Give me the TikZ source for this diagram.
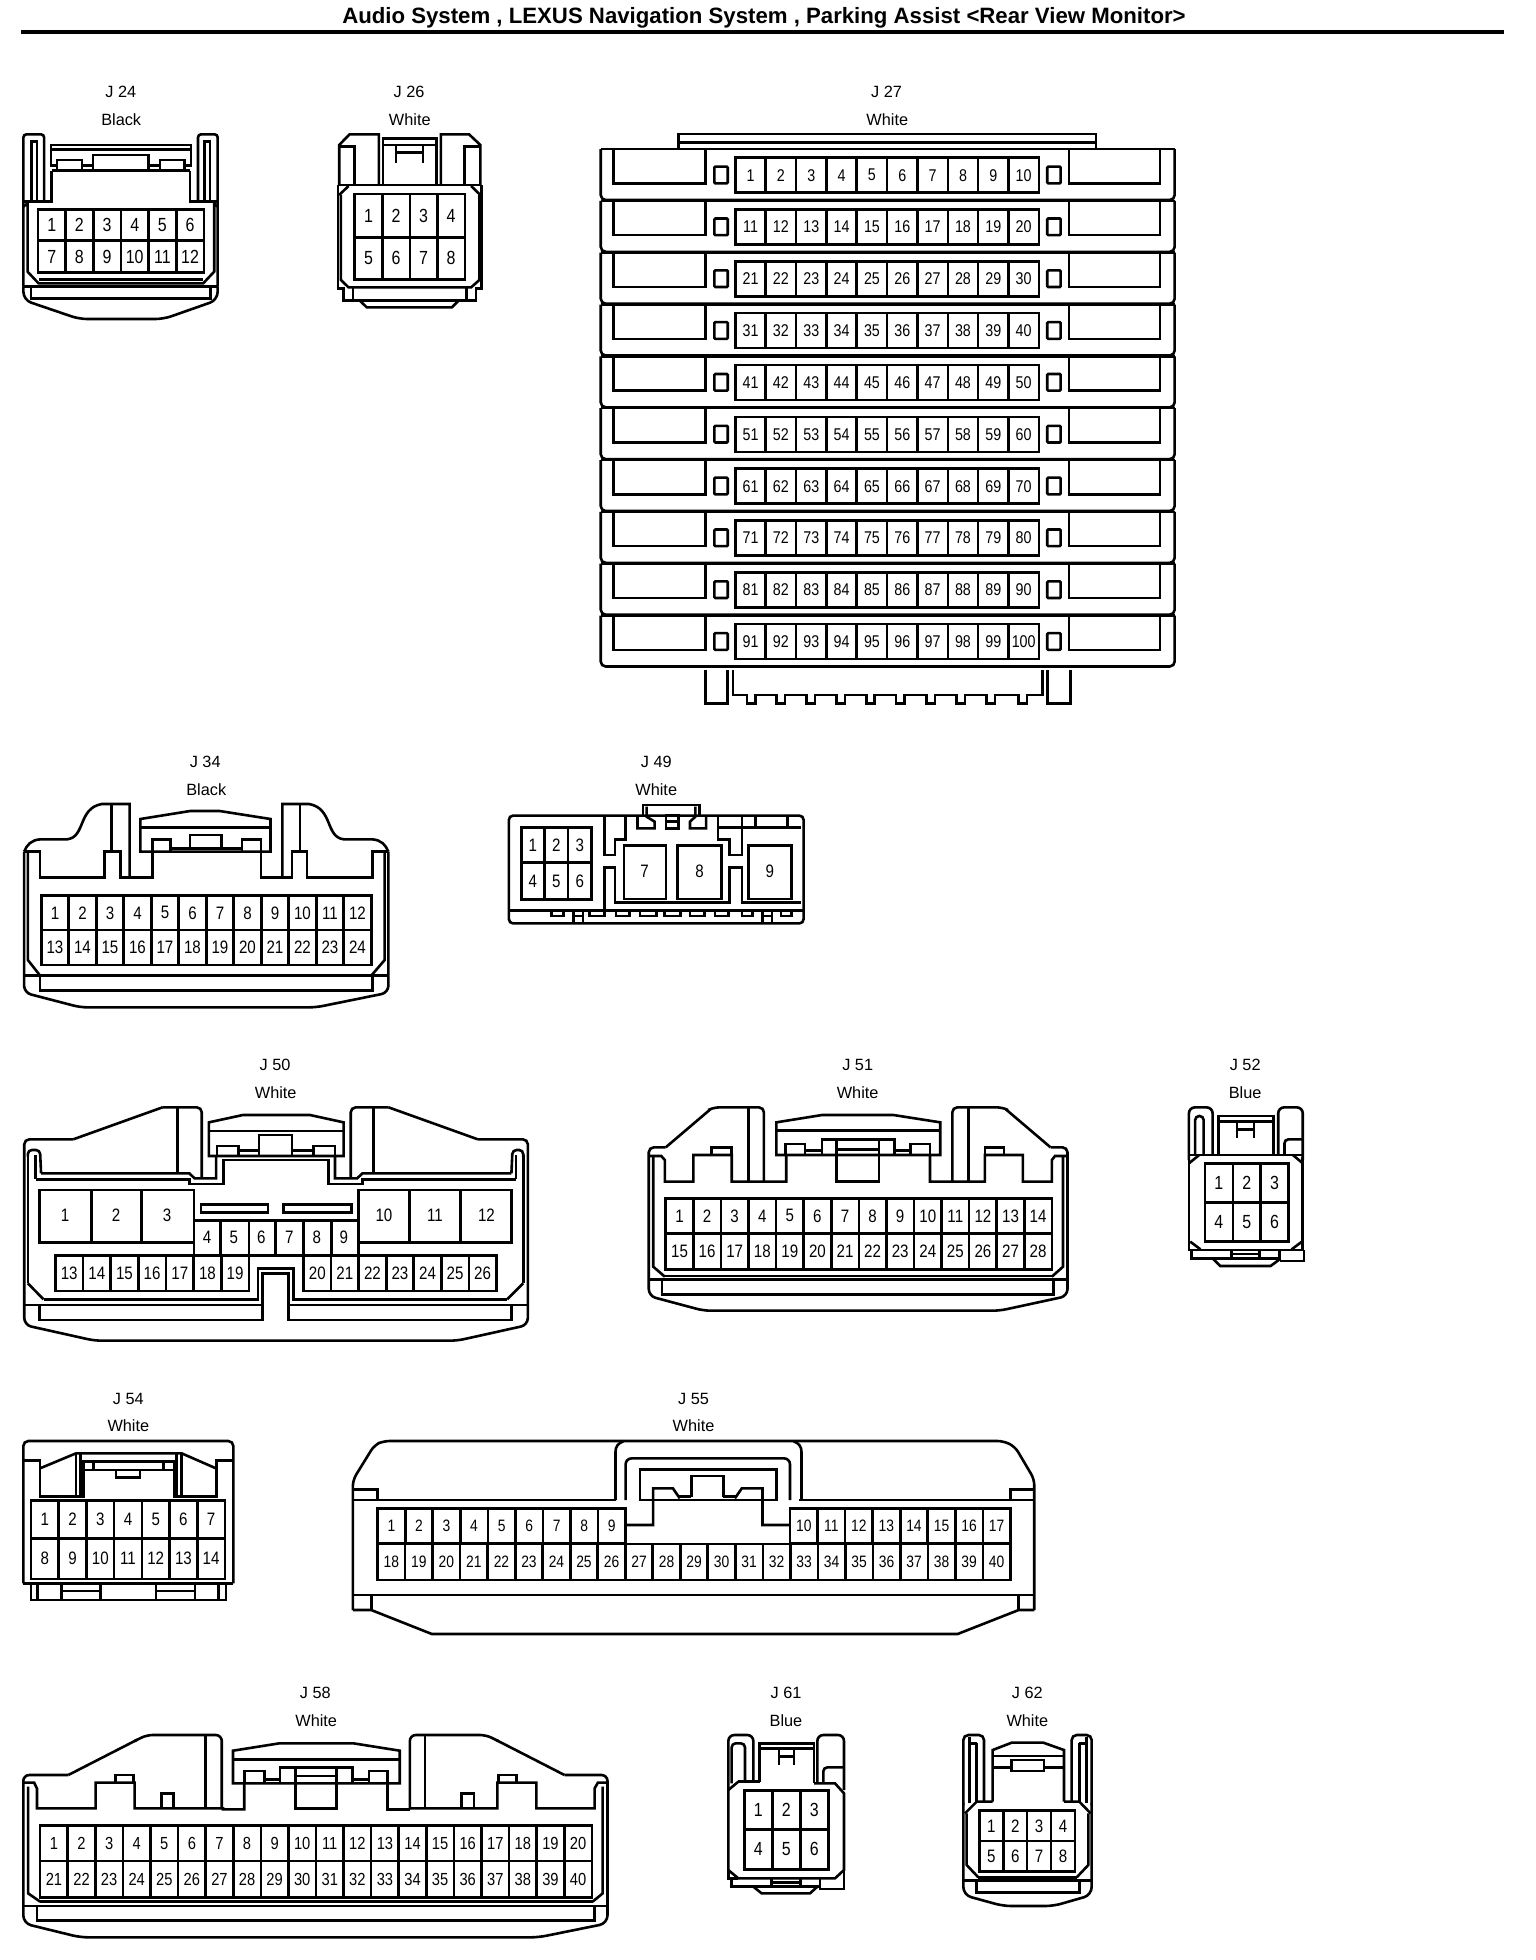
\documentclass[tikz,border=0pt]{standalone}
\usepackage{fontspec}
\setmainfont{Liberation Sans}
\newfontfamily\pinfont[FakeStretch=0.84]{Liberation Sans}
\def\pinpt{18}
\tikzset{
  zoomz/.style n args={3}{shift={(#1,#2)},xscale=#3,yscale=1/3},
  pinlab/.style={inner sep=0pt,font=\fontsize{\pinpt}{\pinpt}\selectfont\pinfont},
  lab/.style={inner sep=0pt,font=\fontsize{16.3}{17}\selectfont},
  ttl/.style={inner sep=0pt,font=\fontsize{22.2}{24}\selectfont\bfseries}
}
\newcommand{\pgrow}[7]{%
  \draw (#2,#3) rectangle (#4,#5);
  \foreach \i in {1,...,#6}{%
    \pgfmathsetmacro\pcw{(#4-#2)/#6}%
    \pgfmathsetmacro\pcx{#2+(\i-.5)*\pcw}%
    \pgfmathsetmacro\pex{#2+\i*\pcw}%
    \pgfmathtruncatemacro\pnum{#7+\i-1}%
    \node[pinlab] (#1-\pnum) at (\pcx,{(#3+#5)/2}) {\pnum};
    \ifnum\i<#6 \draw (\pex,#3) -- (\pex,#5);\fi
  }%
}
\begin{document}
\begin{tikzpicture}[x=1pt,y=-1pt,line width=2.6pt,line join=miter]
\useasboundingbox (0,0) rectangle (1536,1960);
\fill[white] (0,0) rectangle (1536,1960);
\node[ttl] (title) at (764,17.5) {Audio System , LEXUS Navigation System , Parking Assist <Rear View Monitor>};
\draw[line width=3.6pt] (21,32) -- (1504,32);

% ---------- J24 / J26
\begin{scope}[zoomz={0}{0}{540/1568}]
\def\pinpt{19}
\node[lab] (J24t) at (351,277) {J 24};
\node[lab] (J24c) at (352,358) {Black};
\draw[rounded corners=3pt] (68,860) -- (68,403) -- (128,403) -- (128,605);
\draw (92,605) -- (92,425) -- (108,425) -- (108,605);
\draw[rounded corners=3pt] (632,860) -- (632,403) -- (575,403) -- (575,605);
\draw (610,605) -- (610,425) -- (594,425) -- (594,605);
\draw (148,500) -- (148,435) -- (555,435) -- (555,500);
\draw (148,448) -- (555,448);
\draw (148,497) -- (165,497) (238,497) -- (270,497) (432,497) -- (465,497) (535,497) -- (555,497);
\draw (165,512) -- (165,480) -- (238,480) -- (238,512);
\draw (465,512) -- (465,480) -- (535,480) -- (535,512);
\draw (270,512) -- (270,465) -- (432,465) -- (432,512);
\draw (150,512) -- (552,512);
\draw (68,605) -- (150,605) -- (150,512);
\draw (632,605) -- (552,605) -- (552,512);
\draw (68,620) -- (80,610) -- (80,815) -- (112,850) -- (590,850) -- (622,815) -- (622,610) -- (632,620);
\draw (112,838) -- (590,838);
\draw (68,860) -- (632,860);
\draw (90,860) -- (90,895) -- (612,895) -- (612,860);
\draw[rounded corners=8pt] (68,860) -- (68,900) -- (230,957) -- (475,957) -- (632,900) -- (632,860);
\pgrow{J24}{110}{628}{592}{722}{6}{1}
\pgrow{J24}{110}{722}{592}{818}{6}{7}

\node[lab] (J26t) at (1188,277) {J 26};
\node[lab] (J26c) at (1190,358) {White};
\draw (985,555) -- (985,435) -- (1015,403) -- (1100,403) -- (1100,555);
\draw (1280,555) -- (1280,403) -- (1362,403) -- (1395,435) -- (1395,555);
\draw (985,440) -- (1030,440) -- (1030,555);
\draw (1395,440) -- (1348,440) -- (1348,555);
\draw (1112,555) -- (1112,415) -- (1268,415) -- (1268,555);
\draw (1112,435) -- (1268,435);
\draw (1150,435) -- (1150,488) (1228,435) -- (1228,488) (1150,458) -- (1228,458);
\draw (982,555) -- (1398,555);
\draw (982,555) -- (982,865) -- (998,865) (1398,555) -- (1398,865) -- (1382,865);
\draw (985,585) -- (1012,558) (1395,585) -- (1368,558);
\draw (990,585) -- (990,840) -- (1012,862) -- (1368,862) -- (1392,840) -- (1392,585);
\draw (998,862) -- (998,902) -- (1382,902) -- (1382,862);
\draw (1025,862) -- (1025,897) (1355,862) -- (1355,897);
\draw (1045,902) -- (1065,922) -- (1312,922) -- (1332,902);
\pgrow{J26}{1030}{582}{1350}{712}{4}{1}
\pgrow{J26}{1030}{712}{1350}{838}{4}{5}
\end{scope}

% ---------- J27
\begin{scope}[zoomz={590}{80}{600/1568}]
\def\pinpt{17}
\node[lab] (J27t) at (775,37) {J 27};
\node[lab] (J27c) at (777,118) {White};
\draw (232,205) -- (232,162) -- (1322,162) -- (1322,205);
\draw (232,188) -- (1322,188);
\foreach \r in {0,...,9}{%
  \pgfmathtruncatemacro\st{10*\r+1}%
  \begin{scope}[shift={(0,{155.5*\r})}]
    \draw (28,207) -- (1528,207);
    \draw[rounded corners=5pt] (28,207) -- (28,360) -- (1528,360) -- (1528,207);
    \draw (62,207) -- (62,310) -- (302,310) -- (302,207);
    \draw (1252,207) -- (1252,310) -- (1490,310) -- (1490,207);
    \draw[rounded corners=1pt] (325,260) rectangle (360,310);
    \draw[rounded corners=1pt] (1195,260) rectangle (1230,310);
    \pgrow{J27}{380}{233}{1173}{338}{10}{\st}
  \end{scope}
}
\end{scope}
\begin{scope}[zoomz={590}{590}{600/1568}]
\draw (302,240) -- (302,340) -- (360,340) -- (360,240);
\draw (1195,240) -- (1195,340) -- (1255,340) -- (1255,240);
\draw (374,240) -- (374,315) -- (410,315) -- (410,340) -- (432,340) -- (432,315)
  -- (488,315) -- (488,340) -- (510,340) -- (510,315)
  -- (566,315) -- (566,340) -- (588,340) -- (588,315)
  -- (644,315) -- (644,340) -- (666,340) -- (666,315)
  -- (722,315) -- (722,340) -- (744,340) -- (744,315)
  -- (800,315) -- (800,340) -- (822,340) -- (822,315)
  -- (880,315) -- (880,340) -- (902,340) -- (902,315)
  -- (958,315) -- (958,340) -- (980,340) -- (980,315)
  -- (1036,315) -- (1036,340) -- (1058,340) -- (1058,315)
  -- (1120,315) -- (1120,340) -- (1142,340) -- (1142,315)
  -- (1182,315) -- (1182,240);
\end{scope}

% ---------- J34 / J49
\begin{scope}[zoomz={0}{750}{840/1568}]
\def\pinpt{18}
\node[lab] (J34t) at (383,37) {J 34};
\node[lab] (J34c) at (385,118) {Black};
\draw (45,305) .. controls (50,285) and (58,270) .. (75,268) -- (125,268) .. controls (160,262) and (145,175) .. (190,162) -- (242,162) -- (242,382);
\draw (725,305) .. controls (720,285) and (712,270) .. (695,268) -- (642,268) .. controls (607,262) and (622,175) .. (577,162) -- (527,162) -- (527,382);
\draw (208,162) -- (208,305) (560,162) -- (560,305);
\draw (45,305) -- (75,305) -- (75,382) -- (195,382) -- (195,305) -- (225,305) -- (225,382) -- (285,382) -- (285,305);
\draw (725,305) -- (695,305) -- (695,382) -- (573,382) -- (573,305) -- (545,305) -- (545,382) -- (487,382) -- (487,305);
\draw (262,305) -- (262,207) -- (355,183) -- (410,183) -- (505,207) -- (505,305) -- cycle;
\draw (262,232) -- (505,232);
\draw (285,305) -- (285,268) -- (318,268) -- (318,305);
\draw (452,305) -- (452,268) -- (487,268) -- (487,305);
\draw (355,295) -- (355,255) -- (413,255) -- (413,295);
\draw (318,295) -- (355,295) (413,295) -- (452,295) (355,295) -- (413,295);
\draw (52,305) -- (52,630) -- (75,677) (718,305) -- (718,630) -- (693,677);
\draw (45,677) -- (725,677);
\draw (75,677) -- (75,722) -- (695,722) -- (695,677);
\draw[rounded corners=7pt] (45,305) -- (45,728) -- (150,772) -- (590,772) -- (725,728) -- (725,305);
\pgrow{J34}{77}{437}{693}{540}{12}{1}
\pgrow{J34}{77}{540}{693}{645}{12}{13}

\node[lab] (J49t) at (1225,37) {J 49};
\node[lab] (J49c) at (1225,118) {White};
\draw[rounded corners=4pt] (950,197) rectangle (1500,520);
\draw (950,482) -- (1500,482);
\pgrow{J49}{973}{232}{1104}{337}{3}{1}
\pgrow{J49}{973}{337}{1104}{449}{3}{4}
\draw (1165,287) rectangle (1243,447);
\node[pinlab] (J49-7) at (1203,365) {7};
\draw (1265,287) rectangle (1347,447);
\node[pinlab] (J49-8) at (1306,365) {8};
\draw (1397,287) rectangle (1478,447);
\node[pinlab] (J49-9) at (1437,365) {9};
\draw (1200,197) -- (1200,165) -- (1306,165) -- (1306,197);
\draw (1207,170) -- (1207,200) -- (1222,215) -- (1222,235) -- (1190,235) -- (1190,197);
\draw (1298,170) -- (1298,200) -- (1288,215) -- (1288,235) -- (1318,235) -- (1318,197);
\draw (1243,197) rectangle (1267,235);
\draw (1243,215) -- (1267,215);
\draw (1128,197) -- (1128,315) -- (1148,315) -- (1148,268) -- (1168,268) -- (1168,197);
\draw (1128,482) -- (1128,352) -- (1148,352) -- (1148,458) -- (1362,458) -- (1362,352) -- (1385,352) -- (1385,458) -- (1495,458);
\draw (1495,232) -- (1340,232) -- (1340,268) -- (1362,268) -- (1362,315) -- (1385,315) -- (1385,232);
\draw (1340,200) -- (1340,232) (1385,200) -- (1385,232) (1410,200) -- (1410,232) (1470,200) -- (1470,232);
\foreach \a/\b in {1030/1052,1100/1128,1150/1175,1195/1225,1240/1270,1288/1315,1335/1360,1385/1405,1458/1478}{%
  \draw (\a,482) -- (\a,498) -- (\b,498) -- (\b,482);
}
\foreach \a/\b in {1070/1088,1423/1441}{%
  \draw (\a,482) -- (\a,520) (\b,482) -- (\b,520) (\a,498) -- (\b,498);
}
\end{scope}

% ---------- J50
\begin{scope}[zoomz={0}{1060}{560/1568}]
\def\pinpt{18}
\node[lab] (J50t) at (770,15) {J 50};
\node[lab] (J50c) at (772,98) {White};
\draw[rounded corners=5pt] (68,735) -- (68,238) -- (205,238);
\draw (205,238) -- (455,142);
\draw[rounded corners=5pt] (455,142) -- (565,142) -- (565,355);
\draw[rounded corners=5pt] (1478,735) -- (1478,238) -- (1338,238);
\draw (1338,238) -- (1088,142);
\draw[rounded corners=5pt] (1088,142) -- (982,142) -- (982,355);
\draw (497,142) -- (497,340) (1046,142) -- (1046,340);
\draw (78,670) -- (78,285) (100,285) -- (100,358);
\draw[rounded corners=4pt] (78,290) -- (78,270) -- (112,270) -- (115,340);
\draw (115,340) -- (530,340) -- (545,355) -- (605,355) -- (605,288);
\draw (100,358) -- (530,358) -- (530,372) -- (625,372) -- (625,300) -- (920,300) -- (920,372) -- (1015,372) -- (1015,358) -- (1445,358);
\draw (938,288) -- (938,355) -- (1000,355) -- (1015,340) -- (1432,340);
\draw[rounded corners=4pt] (1465,290) -- (1465,270) -- (1435,270) -- (1432,340);
\draw (1445,285) -- (1445,358) (1465,285) -- (1465,670);
\draw (78,670) -- (122,718) (1465,670) -- (1420,718);
\draw (585,288) -- (585,187) -- (680,165) -- (868,165) -- (962,187) -- (962,288) -- cycle;
\draw (585,213) -- (962,213);
\draw (608,285) -- (608,258) -- (668,258) -- (668,285);
\draw (878,285) -- (878,258) -- (938,258) -- (938,285);
\draw (725,285) -- (725,225) -- (818,225) -- (818,285);
\draw (668,272) -- (725,272) (818,272) -- (878,272);
\pgrow{J50}{155}{587}{697}{693}{7}{13}
\pgrow{J50}{850}{587}{1390}{693}{7}{20}
\draw (110,390) rectangle (543,548) (256,390) -- (256,548) (396,390) -- (396,548);
\draw (1003,390) rectangle (1433,548) (1147,390) -- (1147,548) (1290,390) -- (1290,548);
\foreach \n/\xx in {1/182,2/325,3/468,10/1075,11/1218,12/1362}{%
  \node[pinlab] (J50-\n) at (\xx,465) {\n};
}
\draw (543,482) -- (1003,482) (543,548) -- (543,587) (1003,548) -- (1003,587) (697,587) -- (850,587);
\foreach \xx in {617,697,772,850,928}{\draw (\xx,482) -- (\xx,587);}
\foreach \n/\xx in {4/580,5/655,6/732,7/810,8/887,9/963}{%
  \node[pinlab] (J50-\n) at (\xx,532) {\n};
}
\draw (563,433) rectangle (750,458) (793,433) rectangle (985,458);
\draw (122,718) -- (722,718) -- (722,625) -- (822,625) -- (822,718) -- (1420,718);
\draw (68,735) -- (735,735) (808,735) -- (1478,735);
\draw (110,735) -- (110,780) -- (735,780) -- (735,640) -- (808,640) -- (808,780) -- (1433,780) -- (1433,735);
\draw[rounded corners=7pt] (68,735) -- (68,795) -- (265,842) -- (1280,842) -- (1478,795) -- (1478,735);
\end{scope}

% ---------- J51 / J52
\begin{scope}[zoomz={630}{1060}{700/1568}]
\def\pinpt{18}
\node[lab] (J51t) at (510,15) {J 51};
\node[lab] (J51c) at (510,98) {White};
\draw[rounded corners=5pt] (42,285) -- (42,262) -- (80,262);
\draw (80,262) -- (180,148);
\draw[rounded corners=5pt] (175,150) -- (190,142) -- (300,142) -- (300,365);
\draw (265,142) -- (265,365);
\draw (42,288) -- (70,288) -- (78,300) -- (78,365) -- (142,365) -- (142,285) -- (228,285) -- (228,365) -- (350,365) -- (350,285);
\draw (182,285) -- (182,262) -- (228,262) -- (228,285);
\draw (328,285) -- (328,187) -- (430,165) -- (590,165) -- (695,187) -- (695,285) -- cycle;
\draw (328,212) -- (695,212);
\draw (348,285) -- (348,252) -- (392,252) -- (392,285);
\draw (628,285) -- (628,252) -- (672,252) -- (672,285);
\draw (430,285) -- (430,238) -- (592,238) -- (592,285);
\draw (462,238) -- (462,365) -- (558,365) -- (558,238);
\draw (462,268) -- (558,268);
\draw (392,272) -- (430,272) (592,272) -- (628,272);
\draw (672,285) -- (672,365) -- (795,365) -- (795,285) -- (880,285) -- (880,365) -- (945,365) -- (945,300) -- (952,288) -- (980,288);
\draw (795,285) -- (795,262) -- (838,262) -- (838,285);
\draw[rounded corners=5pt] (722,365) -- (722,142) -- (832,142) -- (847,150);
\draw (842,148) -- (942,262);
\draw[rounded corners=5pt] (942,262) -- (980,262) -- (980,285);
\draw (758,142) -- (758,365);
\draw[rounded corners=7pt] (42,285) -- (42,708) -- (165,752) -- (828,752) -- (980,708) -- (980,285);
\draw (52,290) -- (52,620) -- (78,650) (970,290) -- (970,620) -- (945,650);
\draw (78,648) -- (945,648);
\draw (42,658) -- (980,658);
\draw (72,658) -- (72,703) -- (948,703) -- (948,658);
\pgrow{J51}{80}{415}{945}{520}{14}{1}
\pgrow{J51}{80}{520}{945}{628}{14}{15}

\def\pinpt{19}
\node[lab] (J52t) at (1378,15) {J 52};
\node[lab] (J52c) at (1378,98) {Blue};
\draw[rounded corners=6pt] (1252,300) -- (1252,142) -- (1305,142) -- (1305,285);
\draw[rounded corners=4pt] (1266,285) -- (1266,168) -- (1285,168) -- (1285,285);
\draw[rounded corners=6pt] (1452,285) -- (1452,142) -- (1507,142) -- (1507,300);
\draw[rounded corners=4pt] (1466,285) -- (1466,238) -- (1505,238);
\draw (1318,285) -- (1318,168) -- (1442,168) -- (1442,285);
\draw (1318,185) -- (1442,185);
\draw (1360,185) -- (1360,235) (1398,185) -- (1398,235) (1360,208) -- (1398,208);
\draw (1252,285) -- (1507,285);
\draw (1252,310) -- (1275,285) (1507,310) -- (1485,285);
\draw (1252,290) -- (1252,570) -- (1507,570) -- (1507,290);
\draw (1255,545) -- (1278,568) (1505,545) -- (1482,568);
\pgrow{J52}{1288}{310}{1475}{428}{3}{1}
\pgrow{J52}{1288}{428}{1475}{545}{3}{4}
\draw (1258,570) -- (1258,595) -- (1455,595) -- (1455,570);
\draw (1348,570) -- (1348,595) (1410,570) -- (1410,595) (1348,582) -- (1410,582);
\draw (1455,603) -- (1510,603) -- (1510,570);
\draw (1305,595) -- (1322,618) -- (1435,618) -- (1455,598);
\end{scope}

% ---------- J54
\begin{scope}[zoomz={0}{1390}{1/3}]
\def\pinpt{18}
\node[lab] (J54t) at (385,28) {J 54};
\node[lab] (J54c) at (385,108) {White};
\draw[rounded corners=5pt] (70,580) -- (70,153) -- (700,153) -- (700,580);
\draw (70,580) -- (700,580);
\draw (70,212) -- (120,212) -- (120,320) -- (245,320);
\draw (700,212) -- (650,212) -- (650,320) -- (525,320);
\draw (120,235) -- (228,190) -- (545,190) -- (648,235);
\draw (228,190) -- (228,320) (242,190) -- (242,320) (530,190) -- (530,320) (545,190) -- (545,320);
\draw (250,325) -- (250,215) -- (522,215) -- (522,325);
\draw (250,240) -- (522,240);
\draw (280,215) -- (280,240) (490,215) -- (490,240);
\draw (348,240) -- (348,262) -- (420,262) -- (420,240);
\pgrow{J54}{93}{332}{675}{445}{7}{1}
\pgrow{J54}{93}{445}{675}{567}{7}{8}
\draw (93,580) -- (93,630) -- (678,630) -- (678,580);
\foreach \xx in {112,185,302,468,585,655}{\draw (\xx,580) -- (\xx,630);}
\draw (185,603) -- (302,603) (468,603) -- (585,603);
\end{scope}

% ---------- J55
\begin{scope}[zoomz={340}{1390}{720/1568}]
\def\pinpt{16.5}
\node[lab] (J55t) at (770,28) {J 55};
\node[lab] (J55c) at (770,108) {White};
\draw[rounded corners=6pt] (28,660) -- (28,270) -- (75,165) -- (95,153) -- (1445,153) -- (1470,170) -- (1512,268) -- (1512,660);
\draw (28,660) -- (68,660) -- (200,732) -- (1345,732) -- (1478,660) -- (1512,660);
\draw (28,330) -- (600,330) (1000,330) -- (1512,330);
\draw (28,298) -- (82,298) -- (82,330) (1512,298) -- (1460,298) -- (1460,330);
\draw (600,330) -- (600,185) .. controls (600,170) and (605,160) .. (618,153);
\draw (1005,330) -- (1005,185) .. controls (1005,170) and (1000,160) .. (987,153);
\draw[rounded corners=6pt] (622,330) -- (622,205) -- (980,205) -- (980,330);
\draw (653,238) rectangle (950,330);
\draw (625,405) -- (682,405) -- (682,295) -- (725,295) -- (740,325);
\draw (980,405) -- (920,405) -- (920,295) -- (875,295) -- (860,325);
\draw (765,322) -- (765,258) -- (835,258) -- (835,322);
\draw (735,320) -- (765,320) (835,320) -- (865,320);
\draw (28,615) -- (1512,615);
\draw (68,615) -- (68,660) (1478,615) -- (1478,660);
\pgrow{J55}{82}{355}{622}{460}{9}{1}
\pgrow{J55}{980}{355}{1460}{460}{8}{10}
\pgrow{J55}{82}{462}{1460}{570}{23}{18}
\end{scope}

% ---------- J58
\begin{scope}[zoomz={0}{1690}{630/1568}]
\def\pinpt{17.5}
\node[lab] (J58t) at (785,10) {J 58};
\node[lab] (J58c) at (787,92) {White};
\draw[rounded corners=6pt] (58,285) -- (58,255) -- (170,255);
\draw (170,255) -- (340,150);
\draw[rounded corners=6pt] (335,153) -- (365,135) -- (552,135) -- (552,355);
\draw (512,135) -- (512,355);
\draw (58,278) -- (85,278) -- (92,295) -- (92,355) -- (238,355) -- (238,278) -- (335,278) -- (335,355) -- (555,355) -- (555,358) -- (608,358) -- (608,280);
\draw (288,278) -- (288,255) -- (332,255) -- (332,278);
\draw (402,355) -- (402,310) -- (432,310) -- (432,355);
\draw (580,280) -- (580,182) -- (695,160) -- (880,160) -- (995,182) -- (995,280) -- cycle;
\draw (580,208) -- (995,208);
\draw (608,280) -- (608,243) -- (658,243) -- (658,280);
\draw (918,280) -- (918,243) -- (965,243) -- (965,280);
\draw (697,280) -- (697,232) -- (878,232) -- (878,280);
\draw (735,232) -- (735,355) -- (838,355) -- (838,232);
\draw (735,258) -- (838,258);
\draw (658,268) -- (697,268) (878,268) -- (918,268);
\draw (965,280) -- (965,358) -- (1020,358);
\draw[rounded corners=6pt] (1020,358) -- (1020,135) -- (1210,135) -- (1240,153);
\draw (1235,150) -- (1405,255);
\draw[rounded corners=6pt] (1405,255) -- (1512,255) -- (1512,285);
\draw (1058,135) -- (1058,355);
\draw (1020,355) -- (1238,355) -- (1238,278) -- (1335,278) -- (1335,355) -- (1480,355) -- (1480,295) -- (1488,278) -- (1512,278);
\draw (1240,278) -- (1240,255) -- (1285,255) -- (1285,278);
\draw (1148,355) -- (1148,310) -- (1180,310) -- (1180,355);
\draw[rounded corners=8pt] (58,285) -- (58,700) -- (200,742) -- (1340,742) -- (1512,700) -- (1512,285);
\draw (70,290) -- (70,610) -- (100,635) (1500,290) -- (1500,610) -- (1475,635);
\draw (100,635) -- (1475,635);
\draw (58,648) -- (1512,648);
\draw (92,648) -- (92,692) -- (1480,692) -- (1480,648);
\pgrow{J58}{100}{407}{1473}{513}{20}{1}
\pgrow{J58}{100}{513}{1473}{622}{20}{21}
\end{scope}

% ---------- J61 / J62
\begin{scope}[zoomz={710}{1690}{1/3}]
\def\pinpt{19}
\node[lab] (J61t) at (228,10) {J 61};
\node[lab] (J61c) at (228,92) {Blue};
\draw[rounded corners=6pt] (55,300) -- (55,135) -- (130,135) -- (130,275);
\draw[rounded corners=4pt] (65,280) -- (65,160) -- (105,160) -- (105,275);
\draw (85,275) -- (150,275);
\draw[rounded corners=6pt] (322,280) -- (322,135) -- (402,135) -- (402,300);
\draw[rounded corners=4pt] (340,280) -- (340,232) -- (400,232);
\draw (148,275) -- (148,160) -- (312,160) -- (312,278);
\draw (148,175) -- (312,175);
\draw (207,175) -- (207,225) (252,175) -- (252,225) (207,200) -- (252,200);
\draw (312,280) -- (375,280) -- (402,310) -- (402,540) -- (375,565) -- (85,565) -- (55,540) -- (55,300) -- (85,275);
\draw (55,540) -- (55,565) -- (85,565) (402,540) -- (402,565);
\pgrow{J61}{103}{302}{355}{418}{3}{1}
\pgrow{J61}{103}{418}{355}{538}{3}{4}
\draw (65,565) -- (65,590) -- (330,590);
\draw (330,565) -- (330,597) -- (402,597) -- (402,540);
\draw (185,565) -- (185,590) (272,565) -- (272,590) (185,578) -- (272,578);
\draw (130,590) -- (155,610) -- (300,610) -- (322,590);

\def\pinpt{18}
\node[lab] (J62t) at (952,10) {J 62};
\node[lab] (J62c) at (952,92) {White};
\draw[rounded corners=5pt] (760,345) -- (760,135) -- (822,135) -- (822,335);
\draw (778,340) -- (778,140) (800,160) -- (800,335) (778,160) -- (800,160);
\draw[rounded corners=5pt] (1085,335) -- (1085,135) -- (1145,135) -- (1145,345);
\draw (1130,140) -- (1130,340) (1108,160) -- (1108,335) (1108,160) -- (1130,160);
\draw (848,335) -- (848,180) -- (905,158) -- (1000,158) -- (1062,180) -- (1062,335);
\draw (848,198) -- (1062,198);
\draw (905,243) -- (905,210) -- (1002,210) -- (1002,243) -- cycle;
\draw (848,232) -- (905,232) (1002,232) -- (1062,232);
\draw (765,370) -- (800,335) -- (848,335) (1062,335) -- (1108,335) -- (1142,370);
\draw (770,370) -- (770,525) -- (805,562) (1135,370) -- (1135,525) -- (1100,562);
\draw (805,562) -- (1100,562);
\draw (760,572) -- (1145,572);
\draw (800,572) -- (800,607) -- (1108,607) -- (1108,572);
\draw[rounded corners=8pt] (760,340) -- (760,615) -- (880,648) -- (1030,648) -- (1145,615) -- (1145,340);
\pgrow{J62}{808}{362}{1095}{453}{4}{1}
\pgrow{J62}{808}{453}{1095}{545}{4}{5}
\end{scope}
\end{tikzpicture}
\end{document}
